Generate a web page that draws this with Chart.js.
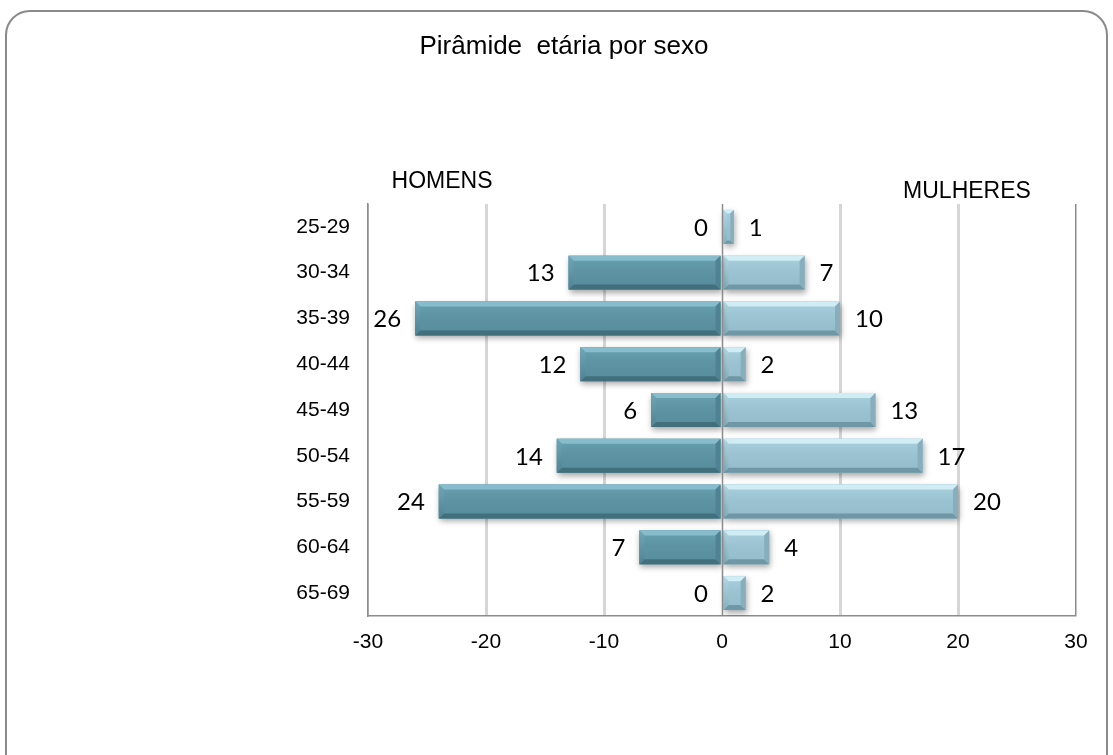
<!DOCTYPE html>
<html>
<head>
<meta charset="utf-8">
<script src="https://cdn.jsdelivr.net/npm/chart.js@4.4.1/dist/chart.umd.min.js"></script>
<style>
  html, body { margin: 0; padding: 0; background: #ffffff; }
  #wrap { width: 1113px; height: 755px; position: relative; }
</style>
</head>
<body>
<div id="wrap"><canvas id="c" width="1113" height="755"></canvas></div>
<script>
// Age groups, top to bottom
const ageGroups = ['25-29', '30-34', '35-39', '40-44', '45-49', '50-54', '55-59', '60-64', '65-69'];
// Head counts per age group
const homens = [0, 13, 26, 12, 6, 14, 24, 7, 0];
const mulheres = [1, 7, 10, 2, 13, 17, 20, 4, 2];
// Axis range for the value axis
const axisMin = -30;
const axisMax = 30;
const axisStep = 10;
// Texts
const chartTitle = 'Pirâmide  etária por sexo';
const sideLabels = ['HOMENS', 'MULHERES'];

const GRID_DARK = '#8c8c8c';
const GRID_LIGHT = '#d6d6d6';

// Bevel palettes for the two series
const bevel = [
  { face: '#5d93a3', faceTop: '#6aa2b2', faceBottom: '#578c9c', top: '#86bccb', bottom: '#426f7c', end: '#4f8393', endLight: '#6fa6b6' },
  { face: '#9bc3d1', faceTop: '#a8d0dd', faceBottom: '#93bbc9', top: '#d0ecf5', bottom: '#7097a5', end: '#86aebc', endLight: '#b4d8e4' }
];

// Frame, title and side captions
const decorPlugin = {
  id: 'decor',
  beforeDraw(chart) {
    const ctx = chart.ctx;
    ctx.save();
    ctx.fillStyle = '#ffffff';
    ctx.fillRect(0, 0, chart.width, chart.height);
    ctx.strokeStyle = '#8a8a8a';
    ctx.lineWidth = 2;
    ctx.beginPath();
    ctx.roundRect(6, 11, 1101, 800, 24);
    ctx.stroke();
    ctx.restore();
  },
  afterDraw(chart) {
    const ctx = chart.ctx;
    const area = chart.chartArea;
    ctx.save();
    ctx.fillStyle = '#000000';
    ctx.textAlign = 'center';
    ctx.textBaseline = 'middle';
    ctx.font = '26px "Liberation Sans", Arial, sans-serif';
    ctx.fillText(chartTitle, 564, 47);
    ctx.font = '23px "Liberation Sans", Arial, sans-serif';
    ctx.fillText(sideLabels[0], area.left + 74, area.top - 22);
    ctx.fillText(sideLabels[1], area.right - 109, area.top - 12);
    ctx.restore();
  }
};

// Soft shadow under bars, then a bevel overlay on each bar
const bevelPlugin = {
  id: 'bevel',
  beforeDatasetDraw(chart) {
    const ctx = chart.ctx;
    ctx.save();
    ctx.shadowColor = 'rgba(0,0,0,0.35)';
    ctx.shadowBlur = 6;
    ctx.shadowOffsetX = 1;
    ctx.shadowOffsetY = 3;
  },
  afterDatasetDraw(chart, args) {
    const ctx = chart.ctx;
    ctx.restore();
    const pal = bevel[args.index];
    const meta = args.meta;
    meta.data.forEach(el => {
      const p = el.getProps(['x', 'y', 'base', 'height'], true);
      const l = Math.min(p.x, p.base);
      const r = Math.max(p.x, p.base);
      const t = p.y - p.height / 2;
      const b = p.y + p.height / 2;
      const w = r - l;
      if (w < 0.5) return;
      const bv = Math.min(5, w / 3);
      ctx.save();
      // face
      const g = ctx.createLinearGradient(0, t, 0, b);
      g.addColorStop(0, pal.faceTop);
      g.addColorStop(0.45, pal.face);
      g.addColorStop(1, pal.faceBottom);
      ctx.fillStyle = g;
      ctx.fillRect(l, t, w, b - t);
      // top band
      ctx.fillStyle = pal.top;
      ctx.beginPath();
      ctx.moveTo(l, t); ctx.lineTo(r, t); ctx.lineTo(r - bv, t + bv); ctx.lineTo(l + bv, t + bv);
      ctx.closePath(); ctx.fill();
      // bottom band
      ctx.fillStyle = pal.bottom;
      ctx.beginPath();
      ctx.moveTo(l, b); ctx.lineTo(r, b); ctx.lineTo(r - bv, b - bv); ctx.lineTo(l + bv, b - bv);
      ctx.closePath(); ctx.fill();
      // left end
      const gl = ctx.createLinearGradient(0, t, 0, b);
      gl.addColorStop(0, pal.endLight);
      gl.addColorStop(1, pal.end);
      ctx.fillStyle = gl;
      ctx.beginPath();
      ctx.moveTo(l, t); ctx.lineTo(l + bv, t + bv); ctx.lineTo(l + bv, b - bv); ctx.lineTo(l, b);
      ctx.closePath(); ctx.fill();
      // right end
      ctx.fillStyle = pal.end;
      ctx.beginPath();
      ctx.moveTo(r, t); ctx.lineTo(r - bv, t + bv); ctx.lineTo(r - bv, b - bv); ctx.lineTo(r, b);
      ctx.closePath(); ctx.fill();
      ctx.restore();
    });
  },
  afterDatasetsDraw(chart) {
    const ctx = chart.ctx;
    const area = chart.chartArea;
    const xs = chart.scales.x;
    // zero line above bars
    const x0 = Math.round(xs.getPixelForValue(0)) + 0.5;
    ctx.save();
    ctx.strokeStyle = GRID_DARK;
    ctx.lineWidth = 1.5;
    ctx.beginPath();
    ctx.moveTo(x0, area.top);
    ctx.lineTo(x0, area.bottom);
    ctx.stroke();
    // value labels
    ctx.fillStyle = '#000000';
    ctx.font = '24px Lato, "Open Sans", sans-serif';
    ctx.textBaseline = 'middle';
    chart.data.datasets.forEach((ds, di) => {
      const meta = chart.getDatasetMeta(di);
      meta.data.forEach((el, i) => {
        const v = Math.abs(ds.data[i]);
        if (di === 0) {
          ctx.textAlign = 'right';
          ctx.fillText(String(v), el.x - 14, el.y + 1);
        } else {
          ctx.textAlign = 'left';
          ctx.fillText(String(v), el.x + 15, el.y + 1);
        }
      });
    });
    ctx.restore();
  }
};

new Chart(document.getElementById('c'), {
  type: 'bar',
  data: {
    labels: ageGroups,
    datasets: [
      {
        label: sideLabels[0],
        data: homens.map(v => -v),
        backgroundColor: bevel[0].face,
        borderWidth: 0,
        barPercentage: 0.74,
        categoryPercentage: 1
      },
      {
        label: sideLabels[1],
        data: mulheres,
        backgroundColor: bevel[1].face,
        borderWidth: 0,
        barPercentage: 0.74,
        categoryPercentage: 1
      }
    ]
  },
  options: {
    indexAxis: 'y',
    responsive: false,
    animation: false,
    devicePixelRatio: 1,
    layout: { padding: { top: 204, right: 37, left: 0, bottom: 0 } },
    plugins: {
      legend: { display: false },
      title: { display: false },
      tooltip: { enabled: false }
    },
    scales: {
      x: {
        stacked: true,
        min: axisMin,
        max: axisMax,
        ticks: {
          stepSize: axisStep,
          padding: 14,
          color: '#000000',
          font: { family: '"Liberation Sans", Arial, sans-serif', size: 21 },
          maxRotation: 0
        },
        grid: {
          drawTicks: false,
          color: c => {
            const v = c.tick ? c.tick.value : null;
            if (v === axisMin || v === axisMax) return GRID_DARK;
            if (v === 0) return 'rgba(0,0,0,0)';
            return GRID_LIGHT;
          },
          lineWidth: c => {
            const v = c.tick ? c.tick.value : null;
            return (v === axisMin || v === axisMax) ? 1.5 : 3;
          }
        },
        border: { display: true, color: GRID_DARK, width: 1.5 },
        afterFit(scale) { scale.height = 139; }
      },
      y: {
        stacked: true,
        ticks: {
          padding: 18,
          color: '#000000',
          font: { family: '"Liberation Sans", Arial, sans-serif', size: 21 }
        },
        grid: { display: true, drawTicks: false, color: 'rgba(0,0,0,0)' },
        border: { display: true, color: GRID_DARK, width: 1.5 },
        afterFit(scale) { scale.width = 368; }
      }
    }
  },
  plugins: [decorPlugin, bevelPlugin]
});
</script>
</body>
</html>
